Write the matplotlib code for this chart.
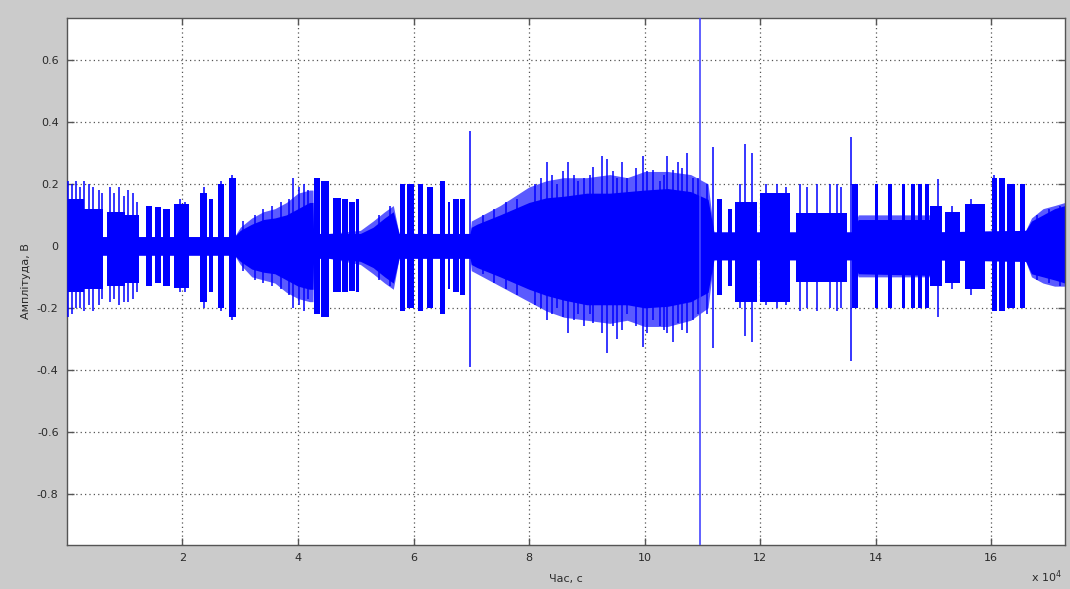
import matplotlib
matplotlib.use("Agg")
import matplotlib.pyplot as plt
from matplotlib.ticker import FixedLocator, FuncFormatter

# ---------------- data (time in units of 1e4 s, amplitude in V) ----------------
# continuous dense band (envelope)
core_t = [0.00, 1.24, 2.90, 3.00, 3.20, 3.40, 3.60, 3.80, 4.00, 4.20, 4.26, 4.27,
          4.53, 5.08, 5.30, 5.50, 5.65, 5.75, 6.98, 7.00, 7.10, 7.50, 8.00, 8.30,
          8.60, 9.00, 9.40, 9.70, 10.00, 10.40, 10.80, 11.10, 11.20, 13.60, 13.70,
          14.95, 15.00, 16.60, 16.70, 16.90, 17.10, 17.28]
core_hi = [0.03, 0.03, 0.03, 0.05, 0.07, 0.085, 0.09, 0.10, 0.12, 0.14, 0.14, 0.04,
           0.04, 0.04, 0.06, 0.09, 0.11, 0.04, 0.04, 0.06, 0.07, 0.10, 0.14, 0.155,
           0.16, 0.17, 0.17, 0.175, 0.18, 0.185, 0.175, 0.15, 0.045, 0.045, 0.085,
           0.085, 0.045, 0.05, 0.08, 0.10, 0.12, 0.13]
core_lo = [-0.03, -0.03, -0.03, -0.05, -0.075, -0.085, -0.09, -0.11, -0.13, -0.14, -0.14, -0.04,
           -0.04, -0.05, -0.07, -0.10, -0.12, -0.04, -0.04, -0.06, -0.07, -0.10, -0.14, -0.16,
           -0.175, -0.19, -0.19, -0.19, -0.20, -0.195, -0.18, -0.15, -0.045, -0.045, -0.09,
           -0.095, -0.045, -0.05, -0.09, -0.10, -0.11, -0.12]
# lighter outer fringe of the dense band (same time points)
fringe_hi = [0.03, 0.03, 0.03, 0.06, 0.09, 0.11, 0.12, 0.14, 0.17, 0.18, 0.18, 0.04,
             0.04, 0.05, 0.08, 0.11, 0.13, 0.04, 0.04, 0.08, 0.09, 0.13, 0.19, 0.21,
             0.22, 0.22, 0.23, 0.22, 0.24, 0.24, 0.23, 0.20, 0.045, 0.045, 0.10,
             0.10, 0.045, 0.05, 0.09, 0.12, 0.13, 0.14]
fringe_lo = [-0.03, -0.03, -0.03, -0.06, -0.10, -0.11, -0.12, -0.15, -0.17, -0.18, -0.18, -0.04,
             -0.04, -0.06, -0.09, -0.12, -0.14, -0.04, -0.04, -0.08, -0.09, -0.13, -0.18, -0.21,
             -0.23, -0.24, -0.25, -0.24, -0.26, -0.26, -0.24, -0.20, -0.045, -0.045, -0.10,
             -0.10, -0.045, -0.05, -0.10, -0.12, -0.13, -0.13]

# burst blocks
burst_t0 = [0.00, 0.30, 0.70, 1.00, 1.36, 1.52, 1.66, 1.86, 2.31, 2.46, 2.61, 2.80,
            4.27, 4.40, 4.60, 4.77, 4.88, 5.00,
            5.77, 5.89, 6.07, 6.24, 6.46, 6.59, 6.69, 6.81,
            11.25, 11.45, 11.57, 12.00, 12.62, 13.60, 13.99, 14.21, 14.45, 14.62,
            14.73, 14.85, 14.94, 15.20, 15.55, 16.02, 16.14, 16.28, 16.50]
burst_t1 = [0.30, 0.62, 1.00, 1.24, 1.47, 1.62, 1.78, 2.12, 2.43, 2.52, 2.72, 2.92,
            4.38, 4.53, 4.74, 4.86, 4.98, 5.05,
            5.86, 6.00, 6.17, 6.33, 6.55, 6.64, 6.78, 6.90,
            11.34, 11.52, 11.95, 12.52, 13.50, 13.70, 14.04, 14.28, 14.51, 14.68,
            14.80, 14.92, 15.15, 15.46, 15.90, 16.10, 16.24, 16.42, 16.59]
burst_hi = [0.15, 0.12, 0.11, 0.10, 0.13, 0.125, 0.12, 0.135, 0.17, 0.15, 0.20, 0.22,
            0.22, 0.21, 0.155, 0.15, 0.14, 0.15,
            0.20, 0.20, 0.20, 0.19, 0.21, 0.14, 0.15, 0.15,
            0.15, 0.12, 0.14, 0.17, 0.105, 0.20, 0.20, 0.20, 0.20, 0.20,
            0.20, 0.20, 0.13, 0.11, 0.135, 0.22, 0.22, 0.20, 0.20]
burst_lo = [-0.15, -0.14, -0.13, -0.12, -0.13, -0.12, -0.13, -0.135, -0.18, -0.15, -0.20, -0.23,
            -0.22, -0.23, -0.15, -0.15, -0.145, -0.15,
            -0.21, -0.20, -0.21, -0.20, -0.22, -0.14, -0.15, -0.16,
            -0.16, -0.13, -0.18, -0.18, -0.115, -0.20, -0.20, -0.20, -0.20, -0.20,
            -0.20, -0.20, -0.13, -0.12, -0.14, -0.21, -0.21, -0.20, -0.20]

# individual spikes
spike_t = [0.02, 0.08, 0.15, 0.22, 0.30, 0.38, 0.45, 0.55, 0.60, 0.75, 0.82, 0.90,
           0.98, 1.05, 1.15, 1.22, 1.95, 2.05, 2.38, 2.66, 2.86,
           3.05, 3.25, 3.40, 3.55, 3.70, 3.85, 3.92, 4.02, 4.10, 4.18, 5.40, 5.60,
           6.98, 7.20, 7.40, 7.60, 7.80, 8.10, 8.20, 8.32, 8.40, 8.49, 8.58, 8.68,
           8.78, 8.85, 8.95, 9.05, 9.11, 9.27, 9.35, 9.45, 9.52, 9.61, 9.70, 9.85,
           9.98, 10.05, 10.15, 10.27, 10.33, 10.39, 10.50, 10.58, 10.65, 10.74,
           10.84, 10.92, 11.08, 11.19,
           11.65, 11.74, 11.86, 12.10, 12.30, 12.45, 12.69, 12.81, 12.99, 13.21,
           13.33, 13.40, 13.57, 15.08, 15.33, 15.65, 16.05, 16.20, 16.80, 17.00, 17.20]
spike_hi = [0.21, 0.20, 0.21, 0.19, 0.21, 0.20, 0.19, 0.18, 0.17, 0.19, 0.17, 0.19,
            0.16, 0.18, 0.17, 0.14, 0.15, 0.14, 0.19, 0.21, 0.23,
            0.08, 0.10, 0.12, 0.13, 0.14, 0.15, 0.22, 0.19, 0.20, 0.18, 0.10, 0.13,
            0.37, 0.10, 0.12, 0.14, 0.15, 0.20, 0.22, 0.27, 0.23, 0.20, 0.24, 0.27,
            0.23, 0.21, 0.22, 0.23, 0.255, 0.29, 0.28, 0.24, 0.22, 0.27, 0.22, 0.25,
            0.29, 0.24, 0.245, 0.21, 0.23, 0.29, 0.245, 0.27, 0.25, 0.30,
            0.22, 0.22, 0.20, 0.32,
            0.20, 0.33, 0.30, 0.20, 0.20, 0.19, 0.20, 0.19, 0.20, 0.20,
            0.20, 0.19, 0.35, 0.215, 0.13, 0.15, 0.23, 0.22, 0.10, 0.12, 0.13]
spike_lo = [-0.23, -0.22, -0.20, -0.20, -0.21, -0.19, -0.21, -0.19, -0.17, -0.18, -0.17, -0.19,
            -0.18, -0.18, -0.17, -0.15, -0.15, -0.15, -0.20, -0.21, -0.24,
            -0.08, -0.11, -0.12, -0.13, -0.14, -0.16, -0.20, -0.19, -0.21, -0.17, -0.11, -0.13,
            -0.39, -0.09, -0.12, -0.14, -0.16, -0.19, -0.20, -0.24, -0.22, -0.20, -0.23, -0.28,
            -0.24, -0.22, -0.26, -0.22, -0.25, -0.28, -0.345, -0.26, -0.30, -0.27, -0.22, -0.26,
            -0.325, -0.28, -0.24, -0.26, -0.27, -0.28, -0.31, -0.25, -0.27, -0.28,
            -0.24, -0.22, -0.22, -0.33,
            -0.20, -0.29, -0.31, -0.19, -0.20, -0.19, -0.21, -0.20, -0.21, -0.20,
            -0.21, -0.20, -0.37, -0.23, -0.14, -0.16, -0.21, -0.20, -0.11, -0.12, -0.13]

marker_t = 10.96          # single full-height line

x_ticks = [2, 4, 6, 8, 10, 12, 14, 16]
y_ticks = [-0.8, -0.6, -0.4, -0.2, 0, 0.2, 0.4, 0.6]
x_limits = (0.0, 17.28)
y_limits = (-0.965, 0.735)

# ---------------- drawing ----------------
BG = "#cbcbcb"
BLUE = "#0000ff"
LIGHT = "#5a5aff"
TXT = "#2a2a2a"

fig = plt.figure(figsize=(10.7, 5.89), dpi=100, facecolor=BG)
ax = fig.add_axes([0.0626, 0.0747, 0.9327, 0.8947])
ax.set_facecolor("white")

ax.fill_between(core_t, fringe_lo, fringe_hi, color=LIGHT, lw=0, zorder=2)
ax.fill_between(core_t, core_lo, core_hi, color=BLUE, lw=0, zorder=2.5)
widths = [b - a for a, b in zip(burst_t0, burst_t1)]
heights = [h - l for h, l in zip(burst_hi, burst_lo)]
ax.bar(burst_t0, heights, width=widths, bottom=burst_lo, align="edge",
       color=BLUE, lw=0, zorder=2.5)
ax.vlines(spike_t, spike_lo, spike_hi, color=BLUE, lw=1.1, zorder=3)
ax.axvline(marker_t, color="#4646ff", lw=1.2, zorder=3)

ax.set_xlim(*x_limits)
ax.set_ylim(*y_limits)
ax.xaxis.set_major_locator(FixedLocator(x_ticks))
ax.yaxis.set_major_locator(FixedLocator(y_ticks))
ax.xaxis.set_major_formatter(FuncFormatter(lambda v, p: f"{v:g}"))
ax.yaxis.set_major_formatter(FuncFormatter(lambda v, p: f"{v:g}"))

ax.set_axisbelow(True)
ax.grid(True, ls=(0, (1, 2.5)), color="#555555", lw=0.9)
ax.tick_params(direction="in", length=5, width=1, color="#555555",
               labelsize=8, labelcolor=TXT, top=True, right=True, pad=6)
for s in ax.spines.values():
    s.set_color("#555555")
    s.set_linewidth(1.0)

ax.set_xlabel("Час, с", fontsize=8, color=TXT, labelpad=8)
ax.set_ylabel("Амплітуда, В", fontsize=8, color=TXT, labelpad=4)
fig.text(0.964, 0.012, r"x 10$^4$", fontsize=8, color=TXT)

fig.savefig("out.png", dpi=100, facecolor=BG)
